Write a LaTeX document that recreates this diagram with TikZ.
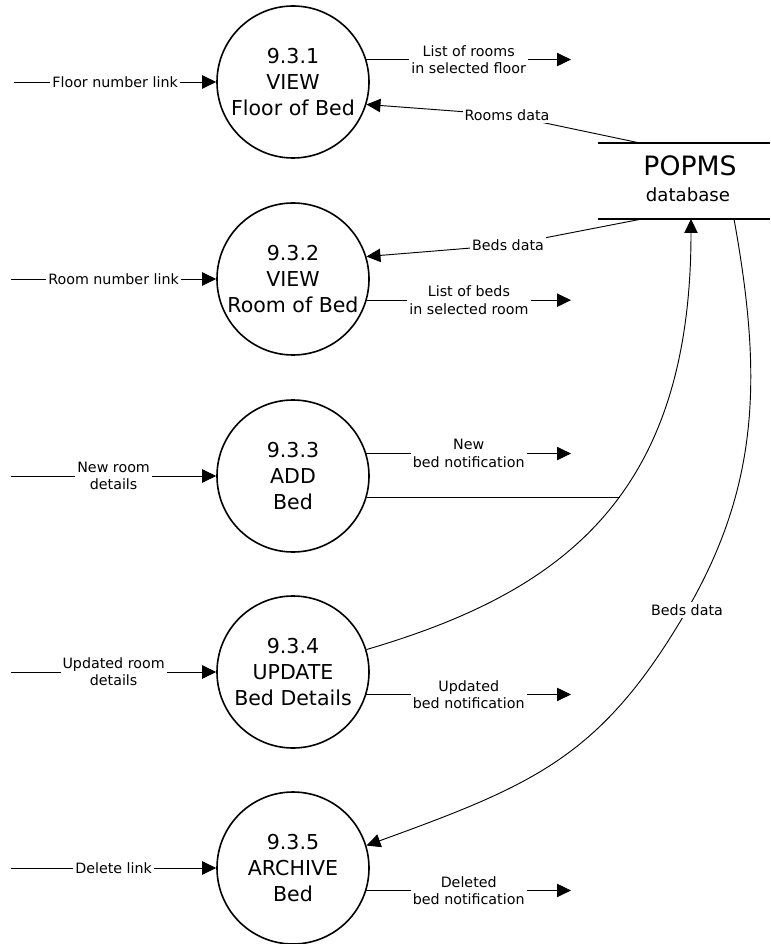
\documentclass[tikz,border=0pt]{standalone}
\usepackage{fontspec}
\setmainfont{DejaVu Sans}
\usetikzlibrary{arrows.meta,calc}
\begin{document}
\begin{tikzpicture}[x=0.75pt,y=-0.75pt,
  proc/.style={circle,draw,line width=1.2pt,minimum size=114pt,inner sep=0pt,align=center,
    font=\fontsize{15.4}{19.5}\selectfont},
  flow/.style={line width=0.7pt,-{Triangle[length=10.5pt,width=10pt]}},
  plainflow/.style={line width=0.7pt},
  lbl/.style={fill=white,inner sep=1.5pt,align=center,font=\fontsize{10.7}{13}\selectfont},
  store/.style={minimum width=129pt,minimum height=57pt,inner sep=0pt},
  storeline/.style={line width=1.4pt}]
\useasboundingbox (0,0) rectangle (770,944);

% processes
\node[proc] (p1) at (293,82)  {9.3.1\\VIEW\\Floor of Bed};
\node[proc] (p2) at (293,279) {9.3.2\\VIEW\\Room of Bed};
\node[proc] (p3) at (293,476) {9.3.3\\ADD\\Bed};
\node[proc] (p4) at (293,672) {9.3.4\\UPDATE\\Bed Details};
\node[proc] (p5) at (293,868) {9.3.5\\ARCHIVE\\Bed};

% data store
\node[store] (db) at (684,181) {};
\draw[storeline] (db.north west) -- (db.north east);
\draw[storeline] (db.south west) -- (db.south east);
\node[inner sep=0pt,font=\fontsize{20}{24}\selectfont] (dbt) at (690,166) {POPMS};
\node[inner sep=0pt,font=\fontsize{13.6}{16}\selectfont] (dbs) at (688,195) {database};

% free ends
\coordinate (a1) at (14,82);
\coordinate (a2) at (11,279);
\coordinate (a3) at (11,476);
\coordinate (a4) at (11,672);
\coordinate (a5) at (11,868);
\coordinate (ox) at (571,0);
\coordinate (j3) at (620,498);
\coordinate (dbr) at (640,143);
\coordinate (dbb) at (642,219);
\coordinate (dbi) at (691,219);
\coordinate (dbo) at (734,219);
\coordinate (rk) at (507,115);
\coordinate (bk2) at (508,245);
\coordinate (bk) at (687,610);

% inputs
\draw[flow] (a1) -- node[lbl]{Floor number link} (p1);
\draw[flow] (a2) -- node[lbl]{Room number link} (p2);
\draw[flow] (a3) -- node[lbl]{New room\\details} (p3);
\draw[flow] (a4) -- node[lbl]{Updated room\\details} (p4);
\draw[flow] (a5) -- node[lbl]{Delete link} (p5);

% outputs
\draw[flow] (p1.17.6) -- node[lbl]{List of rooms\\in selected floor} (p1.17.6 -| ox);
\draw[flow] (p2.-16) -- node[lbl]{List of beds\\in selected room} (p2.-16 -| ox);
\draw[flow] (p3.17.6) -- node[lbl]{New\\bed notification} (p3.17.6 -| ox);
\draw[flow] (p4.-17.6) -- node[lbl]{Updated\\bed notification} (p4.-17.6 -| ox);
\draw[flow] (p5.-17.6) -- node[lbl]{Deleted\\bed notification} (p5.-17.6 -| ox);

% store flows
\draw[flow] (dbr) -- (rk) -- (p1.-17.7);
\node[lbl] (lr) at (rk) {Rooms data};
\draw[flow] (dbb) -- (bk2) -- (p2.17);
\node[lbl] (lb) at (bk2) {Beds data};
\draw[plainflow] (p3.-16.8) -- (p3.-16.8 -| j3);
\draw[flow] (p4.17) .. controls (559,593) and (691,499) .. (dbi);
\draw[flow] (dbo) .. controls (761,369) and (762,481) .. (bk)
  .. controls (602,756) and (536,784) .. (p5.17);
\node[lbl] (lb5) at (bk) {Beds data};
\end{tikzpicture}
\end{document}
